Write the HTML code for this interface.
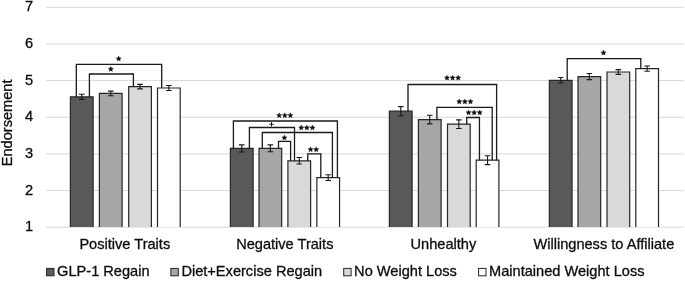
<!DOCTYPE html>
<html><head><meta charset="utf-8"><style>
html,body{margin:0;padding:0;background:#fff;width:685px;height:284px;overflow:hidden}
svg{display:block;will-change:transform}
.t{font-family:"Liberation Sans",sans-serif;font-size:14.6px;fill:#0d0d0d;stroke:#0d0d0d;stroke-width:0.3px}
</style></head><body>
<svg width="685" height="284" viewBox="0 0 685 284">
<rect width="685" height="284" fill="#fff"/>
<line x1="45.9" x2="683.7" y1="227.2" y2="227.2" stroke="#d9d9d9" stroke-width="1"/>
<line x1="45.9" x2="683.7" y1="190.55" y2="190.55" stroke="#d9d9d9" stroke-width="1"/>
<line x1="45.9" x2="683.7" y1="153.9" y2="153.9" stroke="#d9d9d9" stroke-width="1"/>
<line x1="45.9" x2="683.7" y1="117.25" y2="117.25" stroke="#d9d9d9" stroke-width="1"/>
<line x1="45.9" x2="683.7" y1="80.6" y2="80.6" stroke="#d9d9d9" stroke-width="1"/>
<line x1="45.9" x2="683.7" y1="43.95" y2="43.95" stroke="#d9d9d9" stroke-width="1"/>
<line x1="45.9" x2="683.7" y1="7.3" y2="7.3" stroke="#d9d9d9" stroke-width="1"/>
<text x="33.0" y="231.30" text-anchor="end" class="t">1</text>
<text x="33.0" y="194.65" text-anchor="end" class="t">2</text>
<text x="33.0" y="158.00" text-anchor="end" class="t">3</text>
<text x="33.0" y="121.35" text-anchor="end" class="t">4</text>
<text x="33.0" y="84.70" text-anchor="end" class="t">5</text>
<text x="33.0" y="48.05" text-anchor="end" class="t">6</text>
<text x="33.0" y="11.40" text-anchor="end" class="t">7</text>
<text transform="translate(11.9 122.9) rotate(-90)" text-anchor="middle" class="t">Endorsement</text>
<rect x="70.4" y="96.8" width="22.7" height="130.20" fill="#595959"/>
<path d="M70.4 227V96.8H93.10V227" fill="none" stroke="#262626" stroke-width="1.2"/>
<rect x="99.4" y="93.4" width="22.7" height="133.60" fill="#a6a6a6"/>
<path d="M99.4 227V93.4H122.10V227" fill="none" stroke="#262626" stroke-width="1.2"/>
<rect x="128.7" y="86.6" width="22.7" height="140.40" fill="#d9d9d9"/>
<path d="M128.7 227V86.6H151.40V227" fill="none" stroke="#262626" stroke-width="1.2"/>
<rect x="157.5" y="88.0" width="22.7" height="139.00" fill="#ffffff"/>
<path d="M157.5 227V88.0H180.20V227" fill="none" stroke="#262626" stroke-width="1.2"/>
<rect x="230.4" y="148.4" width="22.7" height="78.60" fill="#595959"/>
<path d="M230.4 227V148.4H253.10V227" fill="none" stroke="#262626" stroke-width="1.2"/>
<rect x="259.0" y="148.3" width="22.7" height="78.70" fill="#a6a6a6"/>
<path d="M259.0 227V148.3H281.70V227" fill="none" stroke="#262626" stroke-width="1.2"/>
<rect x="287.9" y="160.8" width="22.7" height="66.20" fill="#d9d9d9"/>
<path d="M287.9 227V160.8H310.60V227" fill="none" stroke="#262626" stroke-width="1.2"/>
<rect x="316.85" y="177.6" width="22.7" height="49.40" fill="#ffffff"/>
<path d="M316.85 227V177.6H339.55V227" fill="none" stroke="#262626" stroke-width="1.2"/>
<rect x="389.4" y="111.2" width="22.7" height="115.80" fill="#595959"/>
<path d="M389.4 227V111.2H412.10V227" fill="none" stroke="#262626" stroke-width="1.2"/>
<rect x="418.4" y="119.6" width="22.7" height="107.40" fill="#a6a6a6"/>
<path d="M418.4 227V119.6H441.10V227" fill="none" stroke="#262626" stroke-width="1.2"/>
<rect x="447.5" y="124.2" width="22.7" height="102.80" fill="#d9d9d9"/>
<path d="M447.5 227V124.2H470.20V227" fill="none" stroke="#262626" stroke-width="1.2"/>
<rect x="476.2" y="160.2" width="22.7" height="66.80" fill="#ffffff"/>
<path d="M476.2 227V160.2H498.90V227" fill="none" stroke="#262626" stroke-width="1.2"/>
<rect x="549.35" y="80.3" width="22.7" height="146.70" fill="#595959"/>
<path d="M549.35 227V80.3H572.05V227" fill="none" stroke="#262626" stroke-width="1.2"/>
<rect x="578.0" y="76.6" width="22.7" height="150.40" fill="#a6a6a6"/>
<path d="M578.0 227V76.6H600.70V227" fill="none" stroke="#262626" stroke-width="1.2"/>
<rect x="607.0" y="72.0" width="22.7" height="155.00" fill="#d9d9d9"/>
<path d="M607.0 227V72.0H629.70V227" fill="none" stroke="#262626" stroke-width="1.2"/>
<rect x="635.8" y="68.6" width="22.7" height="158.40" fill="#ffffff"/>
<path d="M635.8 227V68.6H658.50V227" fill="none" stroke="#262626" stroke-width="1.2"/>
<path d="M81.75 94.25V99.35M78.95 94.25H84.55M78.95 99.35H84.55" stroke="#1a1a1a" stroke-width="1.1" fill="none"/>
<path d="M110.75 91.10V95.70M107.95 91.10H113.55M107.95 95.70H113.55" stroke="#1a1a1a" stroke-width="1.1" fill="none"/>
<path d="M140.05 84.35V88.85M137.25 84.35H142.85M137.25 88.85H142.85" stroke="#1a1a1a" stroke-width="1.1" fill="none"/>
<path d="M168.85 85.55V90.45M166.05 85.55H171.65M166.05 90.45H171.65" stroke="#1a1a1a" stroke-width="1.1" fill="none"/>
<path d="M241.75 144.85V151.95M238.95 144.85H244.55M238.95 151.95H244.55" stroke="#1a1a1a" stroke-width="1.1" fill="none"/>
<path d="M270.35 144.90V151.70M267.55 144.90H273.15M267.55 151.70H273.15" stroke="#1a1a1a" stroke-width="1.1" fill="none"/>
<path d="M299.25 157.55V164.05M296.45 157.55H302.05M296.45 164.05H302.05" stroke="#1a1a1a" stroke-width="1.1" fill="none"/>
<path d="M328.20 174.70V180.50M325.40 174.70H331.00M325.40 180.50H331.00" stroke="#1a1a1a" stroke-width="1.1" fill="none"/>
<path d="M400.75 106.65V115.75M397.95 106.65H403.55M397.95 115.75H403.55" stroke="#1a1a1a" stroke-width="1.1" fill="none"/>
<path d="M429.75 115.30V123.90M426.95 115.30H432.55M426.95 123.90H432.55" stroke="#1a1a1a" stroke-width="1.1" fill="none"/>
<path d="M458.85 119.90V128.50M456.05 119.90H461.65M456.05 128.50H461.65" stroke="#1a1a1a" stroke-width="1.1" fill="none"/>
<path d="M487.55 155.80V164.60M484.75 155.80H490.35M484.75 164.60H490.35" stroke="#1a1a1a" stroke-width="1.1" fill="none"/>
<path d="M560.70 77.55V83.05M557.90 77.55H563.50M557.90 83.05H563.50" stroke="#1a1a1a" stroke-width="1.1" fill="none"/>
<path d="M589.35 73.55V79.65M586.55 73.55H592.15M586.55 79.65H592.15" stroke="#1a1a1a" stroke-width="1.1" fill="none"/>
<path d="M618.35 69.65V74.35M615.55 69.65H621.15M615.55 74.35H621.15" stroke="#1a1a1a" stroke-width="1.1" fill="none"/>
<path d="M647.15 65.95V71.25M644.35 65.95H649.95M644.35 71.25H649.95" stroke="#1a1a1a" stroke-width="1.1" fill="none"/>
<path d="M76.3 96.80V64.4H161.7V88.00" stroke="#1a1a1a" stroke-width="1.3" fill="none"/>
<path d="M89.4 96.80V74.0H133.4V86.60" stroke="#1a1a1a" stroke-width="1.3" fill="none"/>
<path d="M233.4 148.40V121.0H337.4V177.60" stroke="#1a1a1a" stroke-width="1.3" fill="none"/>
<path d="M249.4 148.40V127.5H294.5V160.80" stroke="#1a1a1a" stroke-width="1.3" fill="none"/>
<path d="M262.3 148.30V132.5H332.4V177.60" stroke="#1a1a1a" stroke-width="1.3" fill="none"/>
<path d="M278.5 148.30V141.4H290.6V160.80" stroke="#1a1a1a" stroke-width="1.3" fill="none"/>
<path d="M307.8 160.80V153.85H320.8V177.60" stroke="#1a1a1a" stroke-width="1.3" fill="none"/>
<path d="M408.0 111.20V84.5H496.6V160.20" stroke="#1a1a1a" stroke-width="1.3" fill="none"/>
<path d="M436.9 119.60V107.3H492.2V160.20" stroke="#1a1a1a" stroke-width="1.3" fill="none"/>
<path d="M466.75 124.20V117.5H479.45V160.20" stroke="#1a1a1a" stroke-width="1.3" fill="none"/>
<path d="M567.2 80.30V58.6H640.8V68.60" stroke="#1a1a1a" stroke-width="1.3" fill="none"/>
<path d="M118.70,56.01 L119.46,57.71 L121.32,57.91 L119.94,59.16 L120.32,60.99 L118.70,60.06 L117.08,60.99 L117.46,59.16 L116.08,57.91 L117.94,57.71ZM110.80,66.41 L111.56,68.11 L113.42,68.31 L112.04,69.56 L112.42,71.39 L110.80,70.46 L109.18,71.39 L109.56,69.56 L108.18,68.31 L110.04,68.11ZM279.20,112.71 L279.96,114.41 L281.82,114.61 L280.44,115.86 L280.82,117.69 L279.20,116.76 L277.58,117.69 L277.96,115.86 L276.58,114.61 L278.44,114.41ZM284.80,112.71 L285.56,114.41 L287.42,114.61 L286.04,115.86 L286.42,117.69 L284.80,116.76 L283.18,117.69 L283.56,115.86 L282.18,114.61 L284.04,114.41ZM290.40,112.71 L291.16,114.41 L293.02,114.61 L291.64,115.86 L292.02,117.69 L290.40,116.76 L288.78,117.69 L289.16,115.86 L287.78,114.61 L289.64,114.41ZM301.25,125.01 L302.01,126.71 L303.87,126.91 L302.49,128.16 L302.87,129.99 L301.25,129.06 L299.63,129.99 L300.01,128.16 L298.63,126.91 L300.49,126.71ZM306.85,125.01 L307.61,126.71 L309.47,126.91 L308.09,128.16 L308.47,129.99 L306.85,129.06 L305.23,129.99 L305.61,128.16 L304.23,126.91 L306.09,126.71ZM312.45,125.01 L313.21,126.71 L315.07,126.91 L313.69,128.16 L314.07,129.99 L312.45,129.06 L310.83,129.99 L311.21,128.16 L309.83,126.91 L311.69,126.71ZM284.45,135.01 L285.21,136.71 L287.07,136.91 L285.69,138.16 L286.07,139.99 L284.45,139.06 L282.83,139.99 L283.21,138.16 L281.83,136.91 L283.69,136.71ZM310.60,146.81 L311.36,148.51 L313.22,148.71 L311.84,149.96 L312.22,151.79 L310.60,150.86 L308.98,151.79 L309.36,149.96 L307.98,148.71 L309.84,148.51ZM316.20,146.81 L316.96,148.51 L318.82,148.71 L317.44,149.96 L317.82,151.79 L316.20,150.86 L314.58,151.79 L314.96,149.96 L313.58,148.71 L315.44,148.51ZM447.00,75.16 L447.76,76.86 L449.62,77.06 L448.24,78.31 L448.62,80.14 L447.00,79.21 L445.38,80.14 L445.76,78.31 L444.38,77.06 L446.24,76.86ZM452.60,75.16 L453.36,76.86 L455.22,77.06 L453.84,78.31 L454.22,80.14 L452.60,79.21 L450.98,80.14 L451.36,78.31 L449.98,77.06 L451.84,76.86ZM458.20,75.16 L458.96,76.86 L460.82,77.06 L459.44,78.31 L459.82,80.14 L458.20,79.21 L456.58,80.14 L456.96,78.31 L455.58,77.06 L457.44,76.86ZM459.30,98.91 L460.06,100.61 L461.92,100.81 L460.54,102.06 L460.92,103.89 L459.30,102.96 L457.68,103.89 L458.06,102.06 L456.68,100.81 L458.54,100.61ZM464.90,98.91 L465.66,100.61 L467.52,100.81 L466.14,102.06 L466.52,103.89 L464.90,102.96 L463.28,103.89 L463.66,102.06 L462.28,100.81 L464.14,100.61ZM470.50,98.91 L471.26,100.61 L473.12,100.81 L471.74,102.06 L472.12,103.89 L470.50,102.96 L468.88,103.89 L469.26,102.06 L467.88,100.81 L469.74,100.61ZM468.55,109.91 L469.31,111.61 L471.17,111.81 L469.79,113.06 L470.17,114.89 L468.55,113.96 L466.93,114.89 L467.31,113.06 L465.93,111.81 L467.79,111.61ZM474.15,109.91 L474.91,111.61 L476.77,111.81 L475.39,113.06 L475.77,114.89 L474.15,113.96 L472.53,114.89 L472.91,113.06 L471.53,111.81 L473.39,111.61ZM479.75,109.91 L480.51,111.61 L482.37,111.81 L480.99,113.06 L481.37,114.89 L479.75,113.96 L478.13,114.89 L478.51,113.06 L477.13,111.81 L478.99,111.61ZM603.50,50.11 L604.26,51.81 L606.12,52.01 L604.74,53.26 L605.12,55.09 L603.50,54.16 L601.88,55.09 L602.26,53.26 L600.88,52.01 L602.74,51.81Z" fill="#111" stroke="#111" stroke-width="0.35" stroke-linejoin="round"/>
<path d="M269.30 124.30H273.70M271.50 122.10V126.50" stroke="#1a1a1a" stroke-width="1" fill="none"/>
<text x="124.8" y="249.2" text-anchor="middle" class="t">Positive Traits</text>
<text x="284.8" y="249.2" text-anchor="middle" class="t">Negative Traits</text>
<text x="443.4" y="249.2" text-anchor="middle" class="t">Unhealthy</text>
<text x="603.85" y="249.2" text-anchor="middle" class="t">Willingness to Affiliate</text>
<rect x="46.6" y="268.4" width="7.4" height="7.4" fill="#595959" stroke="#262626" stroke-width="1"/>
<text x="57.1" y="276.3" class="t">GLP-1 Regain</text>
<rect x="170.9" y="268.4" width="7.4" height="7.4" fill="#a6a6a6" stroke="#262626" stroke-width="1"/>
<text x="181.4" y="276.3" class="t">Diet+Exercise Regain</text>
<rect x="343.7" y="268.4" width="7.4" height="7.4" fill="#d9d9d9" stroke="#262626" stroke-width="1"/>
<text x="354.1" y="276.3" class="t">No Weight Loss</text>
<rect x="478.6" y="268.4" width="7.4" height="7.4" fill="#ffffff" stroke="#262626" stroke-width="1"/>
<text x="489.0" y="276.3" class="t">Maintained Weight Loss</text>
</svg>
</body></html>
